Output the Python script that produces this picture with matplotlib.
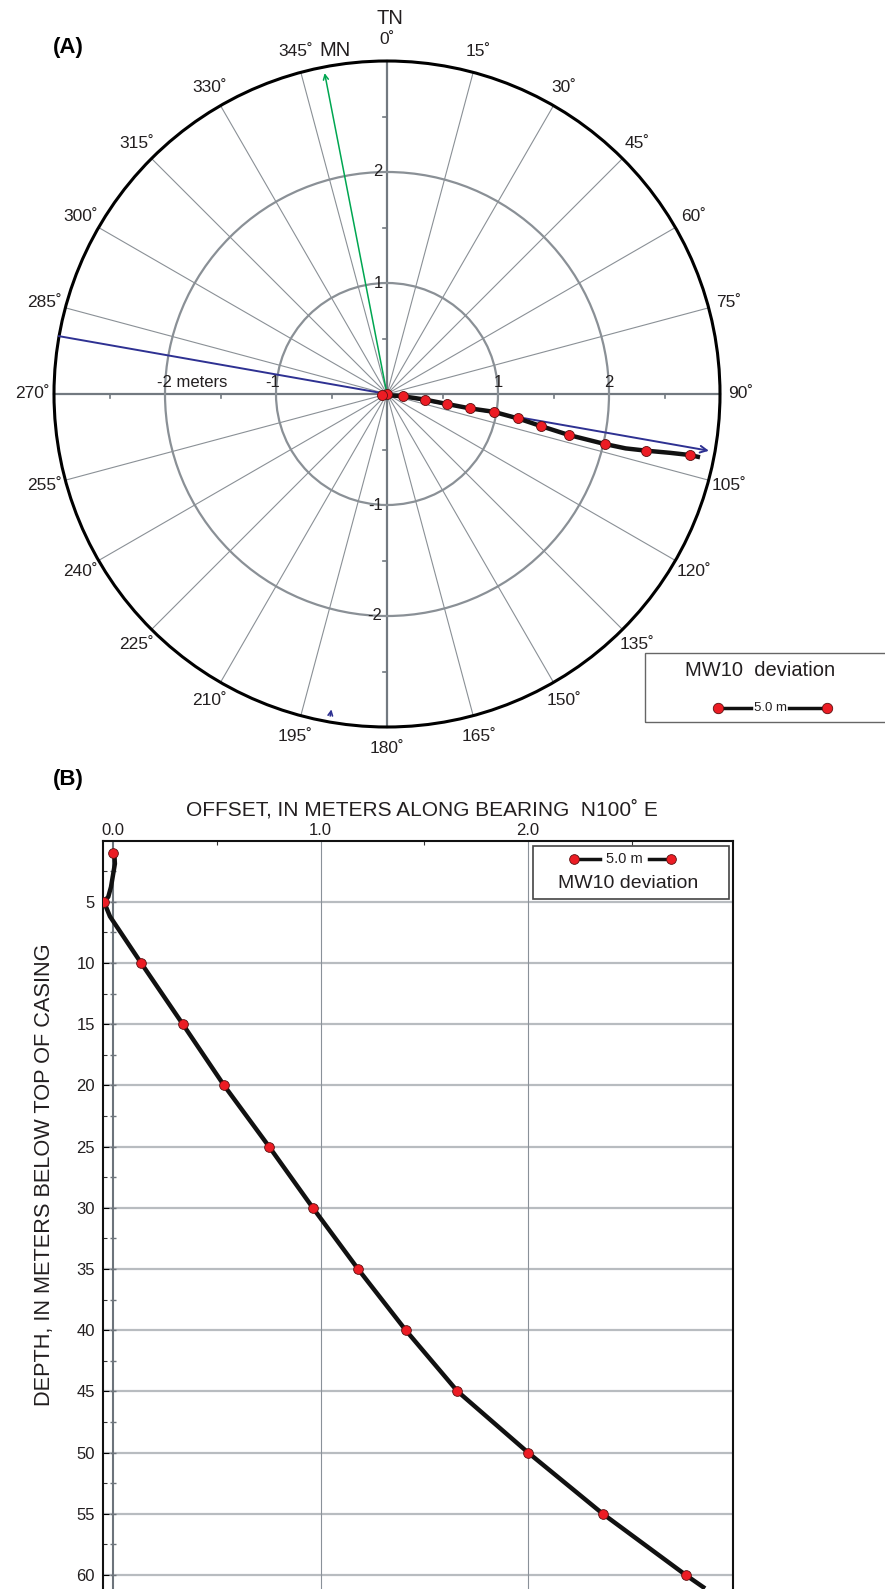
import numpy as np
import matplotlib
matplotlib.use('Agg')
import matplotlib.pyplot as plt
from matplotlib.patches import Circle, Rectangle

plt.rcParams['font.family'] = ['Liberation Sans', 'DejaVu Sans']

# survey stations (depth below top of casing, m)
depth_pts = [1, 5, 10, 15, 20, 25, 30, 35, 40, 45, 50, 55, 60]
# plan view position of each station, m east / m north of the wellhead
east_pts = [0.0, -0.044, 0.14, 0.34, 0.54, 0.75, 0.96, 1.18, 1.39, 1.64, 1.96, 2.33, 2.73]
north_pts = [0.0, -0.008, -0.02, -0.05, -0.09, -0.13, -0.16, -0.22, -0.29, -0.37, -0.45, -0.51, -0.55]
# offset along bearing N100E at each station
offset_pts = [0.0, -0.045, 0.134, 0.335, 0.534, 0.751, 0.962, 1.18, 1.41, 1.66, 2.00, 2.36, 2.76]

# continuous deviation log
plan_east = [0.0, -0.044, 0.14, 0.34, 0.54, 0.75, 0.96, 1.18, 1.39, 1.64, 1.96, 2.15, 2.33, 2.55, 2.73, 2.82]
plan_north = [0.0, -0.008, -0.02, -0.05, -0.09, -0.13, -0.16, -0.22, -0.29, -0.37, -0.45, -0.49, -0.51, -0.53, -0.55, -0.57]
log_depth = [1.0, 1.9, 2.7, 3.8, 4.6, 5.0, 6.2, 10, 15, 20, 25, 30, 35, 40, 45, 50, 55, 60, 61]
log_offset = [0.005, 0.008, 0.0, -0.011, -0.024, -0.045, -0.016, 0.134, 0.335, 0.534, 0.751,
              0.962, 1.18, 1.41, 1.66, 2.00, 2.36, 2.76, 2.845]

bearing = 100          # plane of section, degrees from true north
mag_north = 349        # magnetic north
ring_r = [1, 2]
outer_r = 3
azimuths = np.arange(0, 360, 15)

W, H = 885, 1589
fig = plt.figure(figsize=(W / 100, H / 100), dpi=100)

RED = '#ec1c24'
BLUE = '#2e3192'
GREEN = '#00a651'
GRID = '#8a9096'
INK = '#231f20'

############
#### Panel A
############
cx, cy, ppm = 387, 394, 111.0
topA = 760
axA = fig.add_axes([0, 1 - topA / H, 1, topA / H])
axA.set_xlim(-cx / ppm, (W - cx) / ppm)
axA.set_ylim((cy - topA) / ppm, cy / ppm)
axA.axis('off')

for az in azimuths:
    a = np.radians(az)
    if az % 90 == 0:
        axA.plot([0, outer_r * np.sin(a)], [0, outer_r * np.cos(a)], color='#727980', lw=1.6, zorder=2)
    else:
        axA.plot([0, outer_r * np.sin(a)], [0, outer_r * np.cos(a)], color=GRID, lw=0.8, zorder=1)
    lab_r = 3.19
    axA.text(lab_r * np.sin(a), lab_r * np.cos(a), '%d˚' % az, fontsize=12.5,
             ha='center', va='center', color=INK)

for r in ring_r:
    axA.add_patch(Circle((0, 0), r, fill=False, ec=GRID, lw=1.6, zorder=2))
axA.add_patch(Circle((0, 0), outer_r, fill=False, ec='black', lw=2.2, zorder=3))

# half-metre ticks on the cardinal axes
tk = 0.04
for h in [0.5, 1.5, 2.5]:
    for s in [1, -1]:
        axA.plot([s * h, s * h], [0, -tk], color='#727980', lw=1.2, zorder=2)
        axA.plot([0, -tk], [s * h, s * h], color='#727980', lw=1.2, zorder=2)

# ring labels
for r in ring_r:
    axA.text(-0.04, r, str(r), fontsize=12, ha='right', va='center', color=INK)
    axA.text(-0.04, -r, str(-r), fontsize=12, ha='right', va='center', color=INK)
    axA.text(r, 0.04, str(r), fontsize=12, ha='center', va='bottom', color=INK)
axA.text(-1.03, 0.04, '-1', fontsize=12, ha='center', va='bottom', color=INK)
axA.text(-2.07, 0.04, '-2 meters', fontsize=12, ha='left', va='bottom', color=INK)

# section bearing
b = np.radians(bearing)
axA.plot([-outer_r * np.sin(b), 0], [-outer_r * np.cos(b), 0], color=BLUE, lw=1.4, zorder=4)
axA.annotate('', xy=(2.97 * np.sin(b), 2.97 * np.cos(b)), xytext=(0, 0),
             arrowprops=dict(arrowstyle='->', color=BLUE, lw=1.4, mutation_scale=12), zorder=4)
b2 = np.radians(190)
axA.annotate('', xy=(2.86 * np.sin(b2), 2.86 * np.cos(b2)), xytext=(2.97 * np.sin(b2), 2.97 * np.cos(b2)),
             arrowprops=dict(arrowstyle='->', color=BLUE, lw=1.2, mutation_scale=8), zorder=4)

# magnetic north
m = np.radians(mag_north)
axA.annotate('', xy=(2.97 * np.sin(m), 2.97 * np.cos(m)), xytext=(0, 0),
             arrowprops=dict(arrowstyle='->', color=GREEN, lw=1.1, mutation_scale=9), zorder=4)

axA.plot(plan_east, plan_north, color='#111111', lw=3.2, zorder=5, solid_capstyle='butt')
axA.plot(east_pts, north_pts, 'o', ms=7.2, mfc=RED, mec='#5a1010', mew=0.6, zorder=6)

axA.text(0.03, (cy - 19) / ppm, 'TN', fontsize=14.5, ha='center', va='center', color=INK)
axA.text((335 - cx) / ppm, (cy - 51) / ppm, 'MN', fontsize=14.5, ha='center', va='center', color=INK)
axA.text((68 - cx) / ppm, (cy - 48) / ppm, '(A)', fontsize=16, fontweight='bold', ha='center', va='center')

# legend box, panel A
fig.patches.append(Rectangle((645 / W, 1 - 722 / H), 245 / W, 69 / H, transform=fig.transFigure,
                             fill=False, ec='#666666', lw=1.0))
fig.text(760 / W, 1 - 670 / H, 'MW10  deviation', fontsize=14.5, ha='center', va='center', color=INK)
fig.text(770 / W, 1 - 708 / H, '5.0 m', fontsize=9.5, ha='center', va='center', color=INK)
for x0, x1 in [(718, 751), (789, 827)]:
    fig.add_artist(plt.Line2D([x0 / W, x1 / W], [1 - 708 / H] * 2, color='#111111', lw=2.5))
fig.add_artist(plt.Line2D([718 / W, 827 / W], [1 - 708 / H] * 2, ls='none', marker='o', ms=7.5,
                          mfc=RED, mec='#5a1010', mew=0.6))

############
#### Panel B
############
xl, xr, yt = 103.3, 733.3, 840.5
ppd = 12.24
ymax = 62.0
yb = yt + ymax * ppd
axB = fig.add_axes([xl / W, 1 - yb / H, (xr - xl) / W, (yb - yt) / H])
axB.set_xlim(-0.048, 2.99)
axB.set_ylim(ymax, 0)

for d in range(5, 65, 5):
    axB.axhline(d, color='#b8bcc0', lw=1.6, zorder=1)
for x in [1.0, 2.0]:
    axB.axvline(x, color='#8a9199', lw=0.8, zorder=1)
axB.axvline(0.0, color='#6d747b', lw=1.5, zorder=2)
axB.plot([0.0] * 24, np.arange(2.5, 62, 2.5), ls='none', marker='_', ms=5, mew=1.0, color='#6d747b', zorder=2)

axB.plot(log_offset, log_depth, color='#111111', lw=3.2, zorder=5)
axB.plot(offset_pts, depth_pts, 'o', ms=7, mfc=RED, mec='#5a1010', mew=0.6, zorder=6)

axB.xaxis.tick_top()
axB.set_xticks([0.0, 1.0, 2.0])
axB.set_xticklabels(['0.0', '1.0', '2.0'], fontsize=12, color=INK)
axB.set_xticks([0.5, 1.5, 2.5], minor=True)
axB.set_yticks(range(5, 65, 5))
axB.set_yticklabels([str(d) for d in range(5, 65, 5)], fontsize=12, color=INK)
axB.set_yticks(np.arange(2.5, 62, 5), minor=True)
axB.tick_params(which='major', direction='in', length=0, pad=2)
axB.tick_params(which='minor', direction='in', length=3, width=0.8, color='#333333')
axB.tick_params(axis='y', which='major', length=4, width=0.8, direction='in', pad=6)
for sp in axB.spines.values():
    sp.set_linewidth(1.5)
    sp.set_color('#111111')

fig.text(422 / W, 1 - 810 / H, 'OFFSET, IN METERS ALONG BEARING  N100˚ E', fontsize=15,
         ha='center', va='center', color=INK)
fig.text(45 / W, 1 - 1175 / H, 'DEPTH, IN METERS BELOW TOP OF CASING', fontsize=15.7,
         rotation=90, ha='center', va='center', color=INK)
fig.text(68 / W, 1 - 780 / H, '(B)', fontsize=16, fontweight='bold', ha='center', va='center')

# legend box, panel B
fig.patches.append(Rectangle((533 / W, 1 - 899 / H), 196 / W, 53 / H, transform=fig.transFigure,
                             fill=True, fc='white', ec='#444444', lw=1.2, zorder=7))
fig.text(628 / W, 1 - 883 / H, 'MW10 deviation', fontsize=14, ha='center', va='center', color=INK, zorder=8)
fig.text(624 / W, 1 - 859 / H, '5.0 m', fontsize=10.5, ha='center', va='center', color=INK, zorder=8)
for x0, x1 in [(574, 600), (649, 671)]:
    fig.add_artist(plt.Line2D([x0 / W, x1 / W], [1 - 859 / H] * 2, color='#111111', lw=2.5, zorder=8))
fig.add_artist(plt.Line2D([574 / W, 671 / W], [1 - 859 / H] * 2, ls='none', marker='o', ms=7,
                          mfc=RED, mec='#5a1010', mew=0.6, zorder=9))

fig.savefig('out.png', dpi=100, facecolor='white')
